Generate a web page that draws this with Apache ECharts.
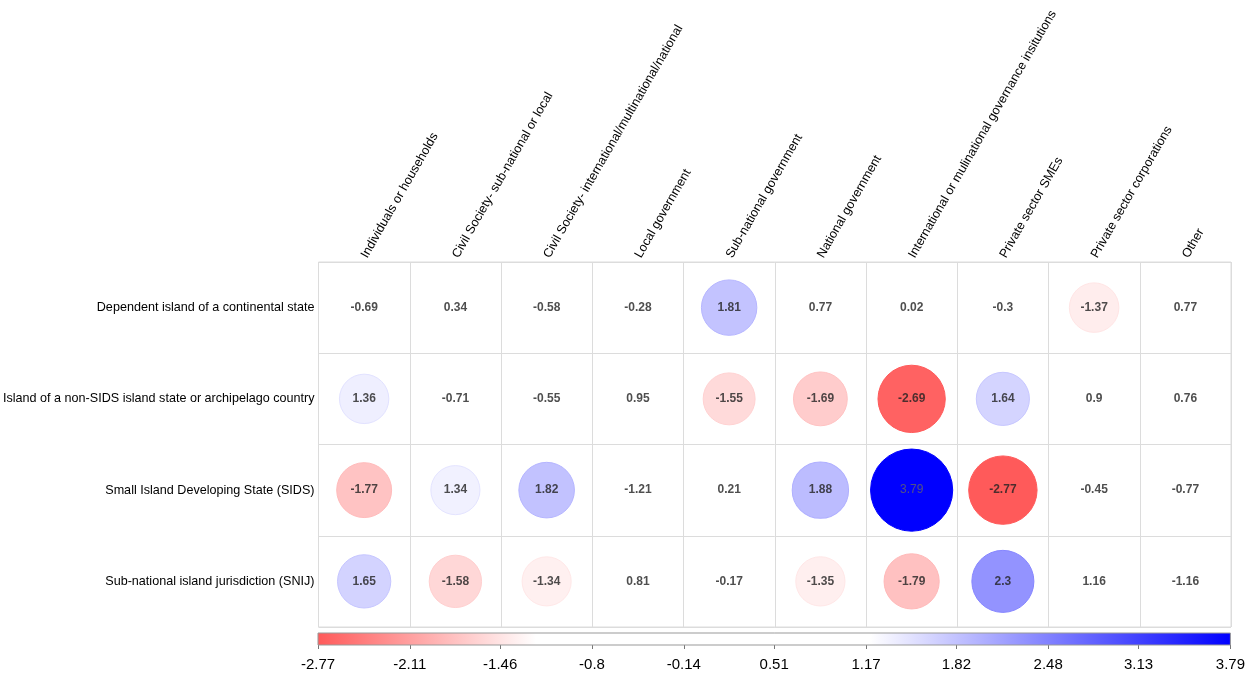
<!DOCTYPE html>
<html>
<head>
<meta charset="utf-8">
<script src="https://cdn.jsdelivr.net/npm/echarts@6/dist/echarts.min.js"></script>
<style>
html,body{margin:0;padding:0;background:#fff;}
#main{width:1248px;height:683px;}
</style>
</head>
<body>
<div id="main"></div>
<script>
// 列（机构类型）
var cols = ['Individuals or households', 'Civil Society- sub-national or local',
	'Civil Society- international/multinational/national', 'Local government',
	'Sub-national government', 'National government',
	'International or mulinational governance insitutions', 'Private sector SMEs',
	'Private sector corporations', 'Other'];
// 行（岛屿类型）
var rows = ['Dependent island of a continental state',
	'Island of a non-SIDS island state or archipelago country',
	'Small Island Developing State (SIDS)',
	'Sub-national island jurisdiction (SNIJ)'];
var dependent = [-0.69, 0.34, -0.58, -0.28, 1.81, 0.77, 0.02, -0.3, -1.37, 0.77];
var nonSids   = [1.36, -0.71, -0.55, 0.95, -1.55, -1.69, -2.69, 1.64, 0.9, 0.76];
var sids      = [-1.77, 1.34, 1.82, -1.21, 0.21, 1.88, 3.79, -2.77, -0.45, -0.77];
var snij      = [1.65, -1.58, -1.34, 0.81, -0.17, -1.35, -1.79, 2.3, 1.16, -1.16];
var barTicks = [-2.77, -2.11, -1.46, -0.8, -0.14, 0.51, 1.17, 1.82, 2.48, 3.13, 3.79];

var vmin = -2.77, vmax = 3.79, white = 1.2, showLimit = 1.3;
var redEnd = [255, 90, 90], blueEnd = [0, 0, 255];

function mix(c, t){
	t = Math.max(0, Math.min(1, t));
	var r = Math.round(255 + (c[0] - 255) * t);
	var g = Math.round(255 + (c[1] - 255) * t);
	var b = Math.round(255 + (c[2] - 255) * t);
	return 'rgb(' + r + ',' + g + ',' + b + ')';
}
function colorAt(v, extra){
	extra = extra || 0;
	if (v <= -white) return mix(redEnd, (-white - v) / (-white - vmin) + extra);
	if (v >= white) return mix(blueEnd, (v - white) / (vmax - white) + extra);
	return '#ffffff';
}

var all = [dependent, nonSids, sids, snij];
var labelData = [], circleData = [];
for (var r = 0; r < all.length; r++){
	for (var c = 0; c < cols.length; c++){
		var v = all[r][c];
		// 深蓝底上的数字用灰色
		if (v > 3) labelData.push({value: [c, r, v], label: {color: '#666', fontWeight: 'normal'}});
		else labelData.push([c, r, v]);
		if (Math.abs(v) >= showLimit) {
			circleData.push({
				value: [c, r, v],
				itemStyle: {color: colorAt(v), borderColor: colorAt(v, 0.05), borderWidth: 1}
			});
		}
	}
}

var span = vmax - vmin;
var stops = [
	{offset: 0, color: mix(redEnd, 1)},
	{offset: (-white - vmin) / span, color: '#ffffff'},
	{offset: (white - vmin) / span, color: '#ffffff'},
	{offset: 1, color: mix(blueEnd, 1)}
];

var myChart = echarts.init(document.getElementById('main'));
var option = {
	backgroundColor: '#fff',
	textStyle: {fontFamily: 'Liberation Sans, Arial, sans-serif'},
	grid: [
		{left: 318, right: 17, top: 262, bottom: 56, show: true, borderColor: '#dcdcdc', borderWidth: 1},
		{left: 318, right: 17, top: 633, height: 12}
	],
	xAxis: [
		{
			type: 'category', gridIndex: 0, position: 'top', data: cols,
			axisLine: {show: false}, axisTick: {show: false},
			axisLabel: {interval: 0, rotate: -60, fontSize: 12.6, color: '#000', margin: 5},
			splitLine: {show: true, lineStyle: {color: '#dcdcdc'}}
		},
		{
			type: 'value', gridIndex: 1, min: vmin, max: vmax,
			axisLine: {show: false},
			axisTick: {show: true, customValues: barTicks, length: 4, lineStyle: {color: '#777'}},
			axisLabel: {customValues: barTicks, fontSize: 15, color: '#000', margin: 12,
				formatter: function(v){ return String(v); }},
			splitLine: {show: false}
		}
	],
	yAxis: [
		{
			type: 'category', gridIndex: 0, inverse: true, data: rows,
			axisLine: {show: false}, axisTick: {show: false},
			axisLabel: {fontSize: 12.6, color: '#000', margin: 4},
			splitLine: {show: true, lineStyle: {color: '#dcdcdc'}}
		},
		{type: 'value', gridIndex: 1, min: 0, max: 1, show: false}
	],
	series: [
		{
			name: 'circles', type: 'scatter', xAxisIndex: 0, yAxisIndex: 0,
			data: circleData, z: 2,
			symbolSize: function(val){ return 31 + 13.5 * Math.abs(val[2]); },
			itemStyle: {opacity: 1},
			emphasis: {disabled: true}
		},
		{
			name: 'labels', type: 'scatter', xAxisIndex: 0, yAxisIndex: 0,
			data: labelData, z: 3, symbolSize: 1,
			itemStyle: {color: 'rgba(0,0,0,0)'},
			label: {
				show: true, position: 'inside', fontSize: 12, fontWeight: 'bold', color: '#222',
				formatter: function(p){ return String(p.value[2]); }
			},
			emphasis: {disabled: true}
		},
		{
			name: 'colorbar', type: 'custom', xAxisIndex: 1, yAxisIndex: 1,
			data: [[vmin, vmax]], silent: true,
			renderItem: function(params, api){
				var p0 = api.coord([api.value(0), 1]);
				var p1 = api.coord([api.value(1), 0]);
				return {
					type: 'rect',
					shape: {x: p0[0], y: p0[1], width: p1[0] - p0[0], height: p1[1] - p0[1]},
					style: {fill: new echarts.graphic.LinearGradient(0, 0, 1, 0, stops), stroke: '#999', lineWidth: 1}
				};
			}
		}
	]
};
myChart.setOption(option);
</script>
</body>
</html>
